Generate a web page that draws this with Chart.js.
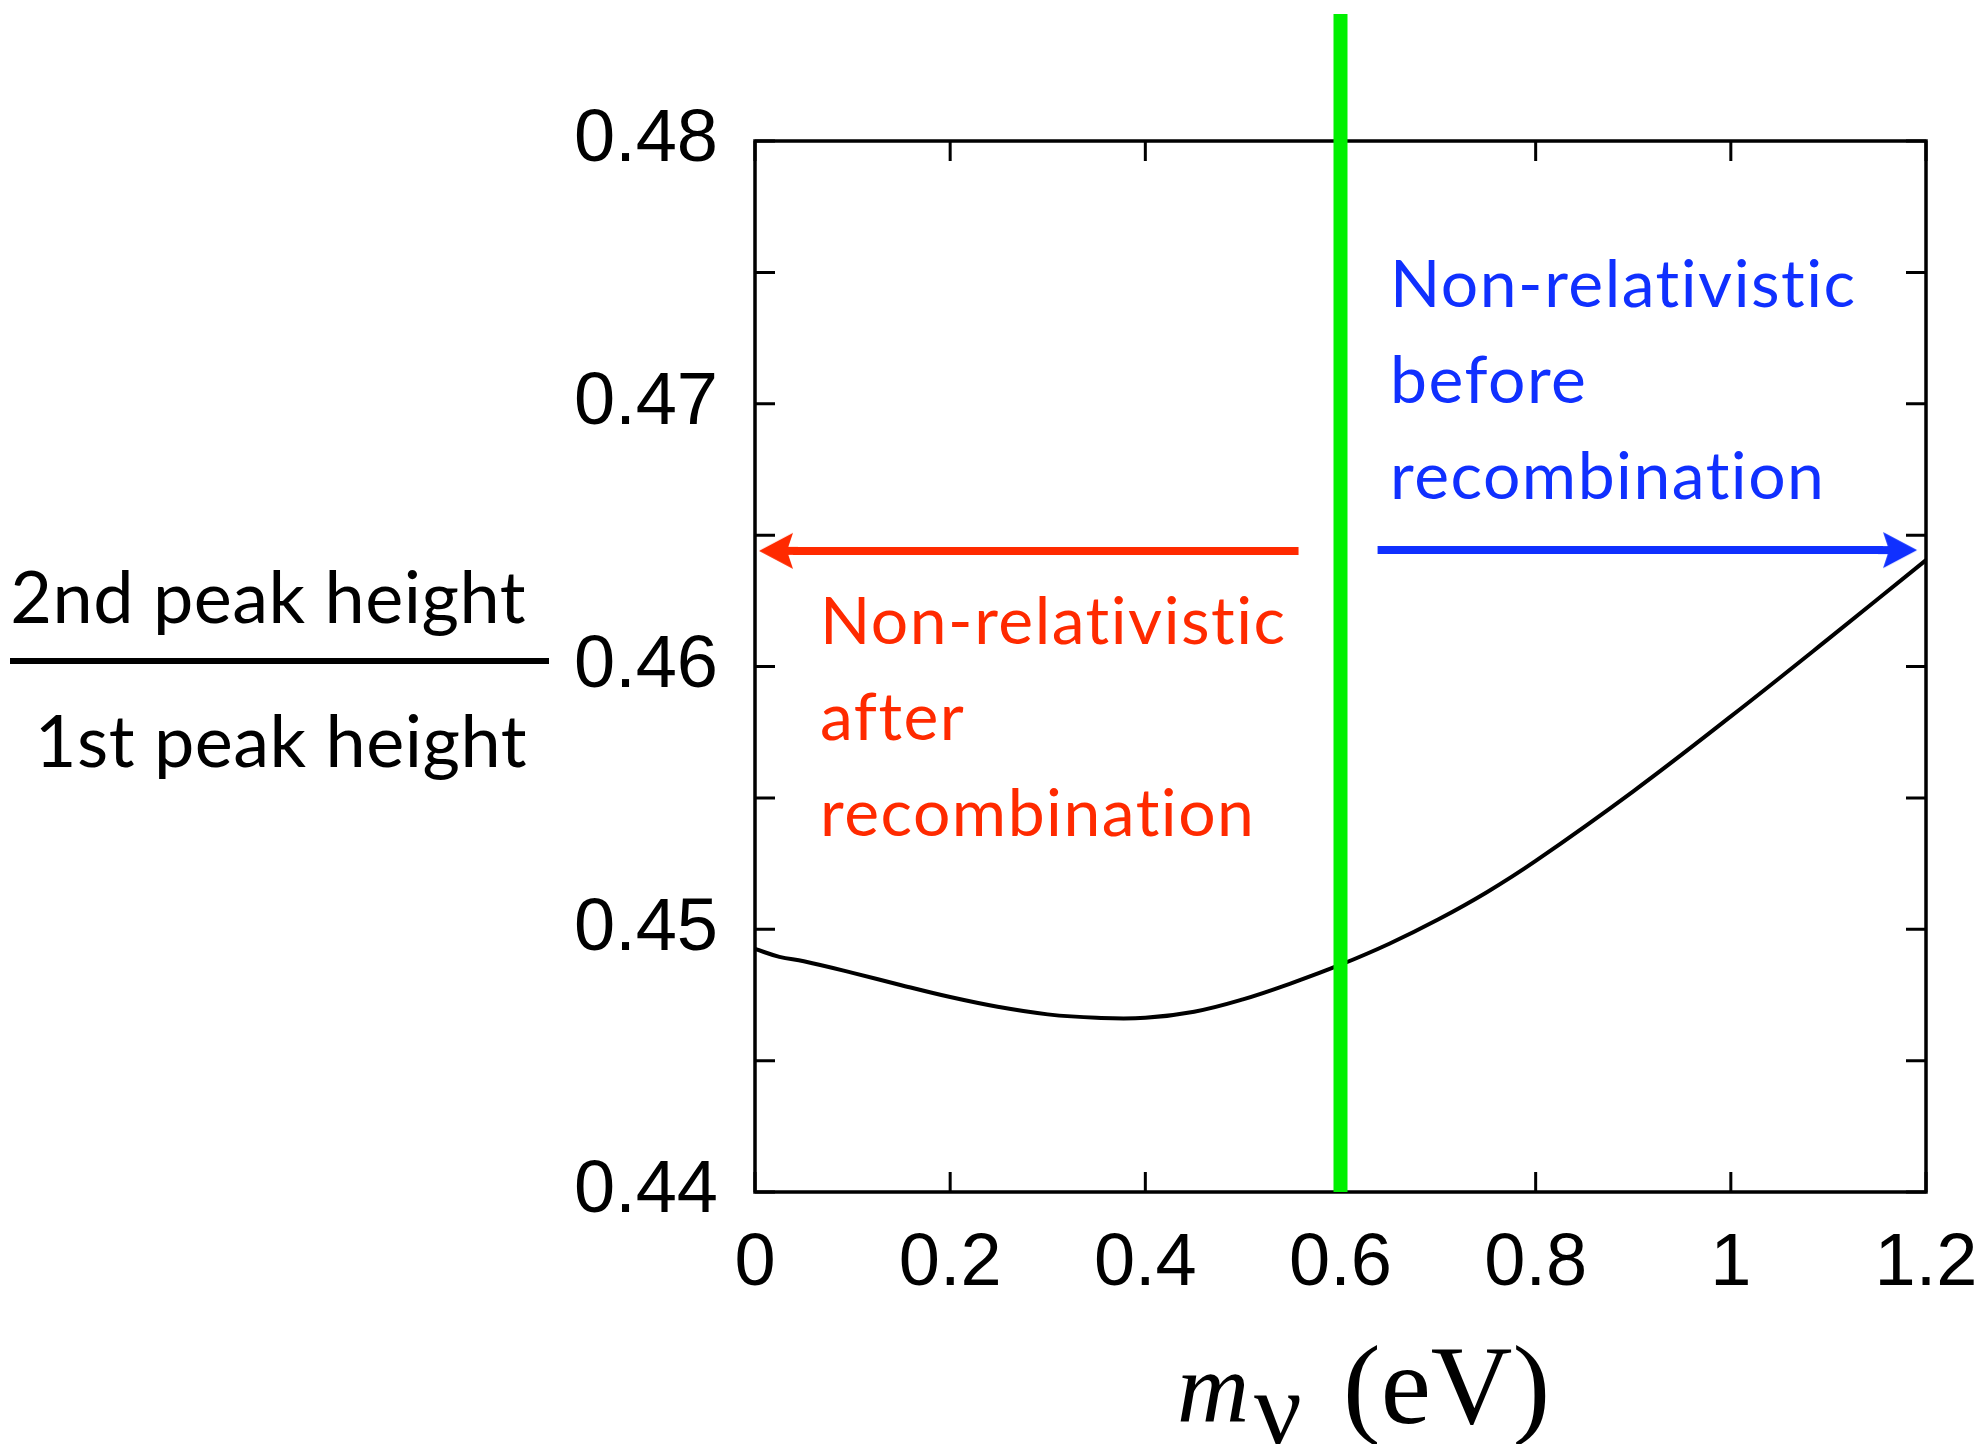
<!DOCTYPE html>
<html>
<head>
<meta charset="utf-8">
<script src="https://cdn.jsdelivr.net/npm/chart.js@4.4.0/dist/chart.umd.min.js"></script>
<style>
  html, body { margin: 0; padding: 0; background: #fff; overflow: hidden; }
  #wrap { width: 1987px; height: 1444px; }
</style>
</head>
<body>
<div id="wrap"><canvas id="myChart" width="1987" height="1444"></canvas></div>
<script>
// ---------- Datos ----------

const masas = [0, 0.025, 0.05, 0.1, 0.15, 0.2, 0.25, 0.3, 0.35, 0.4, 0.45, 0.5, 0.55, 0.6, 0.65, 0.7, 0.75, 0.8, 0.9, 1.0, 1.1, 1.2];
const cociente = [0.44925, 0.44895, 0.44878, 0.44834, 0.44787, 0.44742, 0.44704, 0.44676, 0.44663, 0.44663, 0.44686, 0.44733, 0.44795, 0.44865, 0.44945, 0.45037, 0.45141, 0.45260, 0.45525, 0.45810, 0.46105, 0.46405];

const ticksX = [0, 0.2, 0.4, 0.6, 0.8, 1.0, 1.2];
const ticksY = [0.44, 0.45, 0.46, 0.47, 0.48];
const ticksYMenores = [0.445, 0.455, 0.465, 0.475];

const masaCorte = 0.6;
const lineaVerde = [0.44, 0.48483];

const flechaRojaX = [0.557, 0.039];
const flechaRojaY = [0.4644, 0.4644];
const flechaAzulX = [0.638, 1.156];
const flechaAzulY = [0.46443, 0.46443];

const textoRojo = ['Non-relativistic', 'after', 'recombination'];
const textoAzul = ['Non-relativistic', 'before', 'recombination'];

// ---------- Punta de flecha ----------

function puntaFlecha(color) {
  // canvas con la punta mirando a la derecha; el centro del canvas queda en la base
  const c = document.createElement('canvas');
  c.width = 70;
  c.height = 40;
  const g = c.getContext('2d');
  g.fillStyle = color;
  g.beginPath();
  g.moveTo(69, 20);
  g.lineTo(35, 2);
  g.lineTo(41, 20);
  g.lineTo(35, 38);
  g.closePath();
  g.fill();
  g.fillRect(30, 16, 12, 8);
  return c;
}

// ---------- Plugins ----------

const marco = {
  id: 'marco',
  beforeDatasetsDraw(chart) {
    const { ctx, chartArea: a, scales: { x, y } } = chart;
    ctx.save();
    ctx.strokeStyle = '#000';
    ctx.lineWidth = 3.5;
    ctx.strokeRect(a.left, a.top, a.right - a.left, a.bottom - a.top);

    ctx.lineWidth = 3;
    const largo = 20;
    ctx.beginPath();
    ticksY.concat(ticksYMenores).forEach(v => {
      const py = y.getPixelForValue(v);
      ctx.moveTo(a.left, py);
      ctx.lineTo(a.left + largo, py);
      ctx.moveTo(a.right, py);
      ctx.lineTo(a.right - largo, py);
    });
    ticksX.forEach(v => {
      const px = x.getPixelForValue(v);
      ctx.moveTo(px, a.bottom);
      ctx.lineTo(px, a.bottom - largo);
      ctx.moveTo(px, a.top);
      ctx.lineTo(px, a.top + largo);
    });
    ctx.stroke();
    ctx.restore();
  },
  afterDraw(chart) {
    const { ctx } = chart;
    ctx.save();

    // textos de las flechas
    ctx.font = '66px Lato';
    ctx.letterSpacing = '1.5px';
    ctx.textBaseline = 'alphabetic';
    ctx.textAlign = 'left';
    ctx.fillStyle = '#ff2a00';
    textoRojo.forEach((t, i) => ctx.fillText(t, 820, 644 + i * 96));
    ctx.fillStyle = '#1030ff';
    textoAzul.forEach((t, i) => ctx.fillText(t, 1390, 307 + i * 96));

    // titulo del eje y (fraccion)
    ctx.fillStyle = '#000';
    ctx.font = '72px Lato';
    ctx.letterSpacing = '0.5px';
    ctx.textAlign = 'right';
    ctx.fillText('2nd peak height', 526, 623);
    ctx.fillText('1st peak height', 527, 767);
    ctx.fillRect(10, 658, 539, 6);

    // titulo del eje x
    ctx.letterSpacing = '0px';
    ctx.textAlign = 'left';
    ctx.font = 'italic 100px "Liberation Serif"';
    ctx.fillText('m', 1177, 1421);
    ctx.font = '106px "Liberation Serif"';
    ctx.fillText('\u03bd', 1254, 1444);
    ctx.font = '113px "Liberation Serif"';
    ctx.fillText('(eV)', 1343, 1423);

    ctx.restore();
  }
};

// ---------- Grafica ----------

const ctx = document.getElementById('myChart').getContext('2d');

const puntos = (xs, ys) => xs.map((v, i) => ({ x: v, y: ys[i] }));

new Chart(ctx, {
  type: 'line',
  data: {
    datasets: [
      {
        data: puntos([masaCorte, masaCorte], lineaVerde),
        borderColor: '#00f000',
        borderWidth: 14,
        pointRadius: 0,
        clip: false
      },
      {
        data: puntos(flechaRojaX, flechaRojaY),
        borderColor: '#ff2a00',
        borderWidth: 8,
        pointStyle: puntaFlecha('#ff2a00'),
        pointRadius: [0, 20],
        pointRotation: [0, 180],
        clip: false
      },
      {
        data: puntos(flechaAzulX, flechaAzulY),
        borderColor: '#1030ff',
        borderWidth: 8,
        pointStyle: puntaFlecha('#1030ff'),
        pointRadius: [0, 20],
        pointRotation: [0, 0],
        clip: false
      },
      {
        data: puntos(masas, cociente),
        borderColor: '#000',
        borderWidth: 4,
        pointRadius: 0,
        tension: 0.4
      }
    ]
  },
  options: {
    responsive: false,
    animation: false,
    layout: { padding: { left: 0, right: 61, top: 141, bottom: 0 } },
    scales: {
      x: {
        type: 'linear',
        min: 0,
        max: 1.2,
        afterFit: s => {
          s.height = 252;
          s.paddingLeft = 0;
          s.paddingRight = 0;
        },
        afterBuildTicks: s => { s.ticks = ticksX.map(v => ({ value: v })); },
        grid: { display: false, drawTicks: false },
        border: { display: false },
        ticks: {
          color: '#000',
          font: { family: '"Liberation Sans"', size: 74 },
          padding: 28,
          maxRotation: 0,
          callback: v => String(Math.round(v * 10) / 10)
        }
      },
      y: {
        min: 0.44,
        max: 0.48,
        afterFit: s => { s.width = 755; },
        afterBuildTicks: s => { s.ticks = ticksY.map(v => ({ value: v })); },
        grid: { display: false, drawTicks: false },
        border: { display: false },
        ticks: {
          color: '#000',
          font: { family: '"Liberation Sans"', size: 74 },
          padding: 37,
          callback: v => v.toFixed(2)
        }
      }
    },
    plugins: {
      legend: { display: false },
      tooltip: { enabled: false }
    }
  },
  plugins: [marco]
});
</script>
</body>
</html>
